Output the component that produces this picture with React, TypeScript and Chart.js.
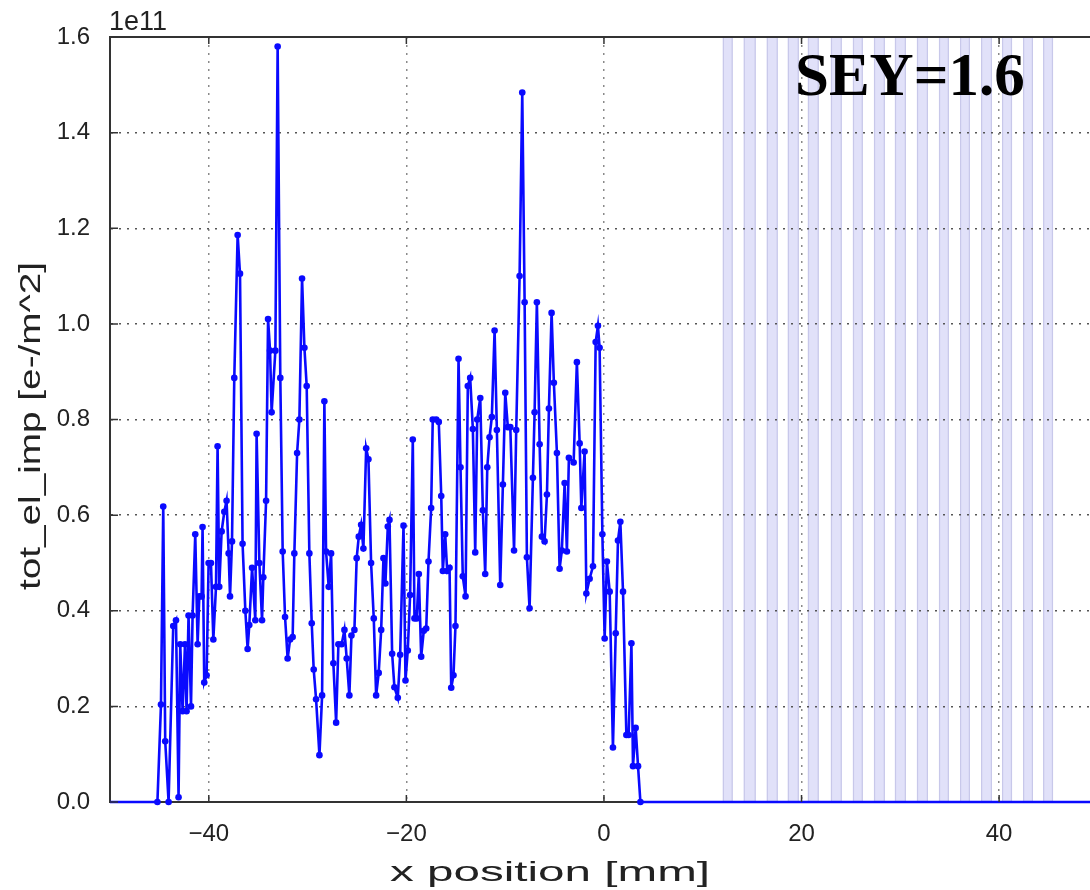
import { useEffect, useRef } from "react";
import { Chart, registerables } from "chart.js";

Chart.register(...registerables);

// x position [mm]
const xPos = [
  -50, -45.2, -44.84, -44.61, -44.41, -44.07, -43.6, -43.32, -43.06, -42.89,
  -42.65, -42.41, -42.25, -42.05, -41.8, -41.64, -41.37, -41.13, -40.96, -40.73,
  -40.63, -40.46, -40.22, -40.02, -39.78, -39.54, -39.27, -39.11, -38.94, -38.7,
  -38.43, -38.2, -37.99, -37.85, -37.65, -37.42, -37.08, -36.84, -36.58, -36.3,
  -36.07, -35.9, -35.62, -35.29, -35.16, -34.88, -34.61, -34.48, -34.2, -34.0,
  -33.8, -33.64, -33.26, -33.03, -32.76, -32.52, -32.28, -32.02, -31.77, -31.51,
  -31.34, -31.06, -30.83, -30.56, -30.32, -30.09, -29.82, -29.58, -29.38, -29.14,
  -28.8, -28.53, -28.3, -28.13, -27.86, -27.62, -27.39, -27.11, -26.88, -26.55,
  -26.27, -26.04, -25.77, -25.56, -25.26, -25.03, -24.82, -24.58, -24.35, -24.07,
  -23.84, -23.57, -23.3, -23.06, -22.8, -22.55, -22.32, -22.12, -21.88, -21.71,
  -21.44, -21.21, -20.87, -20.63, -20.29, -20.09, -19.86, -19.62, -19.35, -19.18,
  -18.95, -18.74, -18.5, -18.24, -17.99, -17.76, -17.49, -17.33, -16.98, -16.72,
  -16.47, -16.31, -16.07, -15.87, -15.63, -15.46, -15.23, -15.03, -14.72, -14.52,
  -14.29, -14.01, -13.78, -13.54, -13.27, -13.03, -12.83, -12.52, -12.26, -12.02,
  -11.81, -11.58, -11.35, -11.07, -10.84, -10.5, -10.23, -9.99, -9.73, -9.48,
  -9.1, -8.88, -8.54, -8.27, -8.03, -7.8, -7.53, -7.19, -7.02, -6.79,
  -6.51, -6.28, -6.01, -5.77, -5.57, -5.3, -5.07, -4.76, -4.49, -4.26,
  -3.98, -3.75, -3.55, -3.07, -2.74, -2.46, -2.29, -1.96, -1.78, -1.45,
  -1.11, -0.84, -0.61, -0.44, -0.16, 0.07, 0.3, 0.58, 0.91, 1.19,
  1.42, 1.66, 1.93, 2.27, 2.5, 2.78, 2.94, 3.21, 3.45, 3.69,
  49.2,
];

// tot_el_imp [e-/m^2], in units of 1e11
const totElImp = [
  0, 0, 0.204, 0.618, 0.127, 0.0, 0.368, 0.38, 0.01, 0.33,
  0.19, 0.33, 0.19, 0.39, 0.2, 0.39, 0.56, 0.33, 0.43, 0.43,
  0.575, 0.25, 0.265, 0.5, 0.5, 0.34, 0.45, 0.744, 0.45, 0.566,
  0.607, 0.63, 0.52, 0.43, 0.545, 0.887, 1.186, 1.105, 0.54, 0.4,
  0.32, 0.37, 0.49, 0.38, 0.77, 0.5, 0.38, 0.47, 0.63, 1.01,
  0.944, 0.815, 0.944, 1.58, 0.887, 0.524, 0.387, 0.3, 0.34, 0.345,
  0.52, 0.73, 0.8, 1.095, 0.95, 0.87, 0.52, 0.374, 0.277, 0.215,
  0.098, 0.223, 0.838, 0.524, 0.45, 0.52, 0.29, 0.166, 0.33, 0.33,
  0.36, 0.3, 0.223, 0.348, 0.36, 0.51, 0.555, 0.58, 0.53, 0.74,
  0.717, 0.5, 0.384, 0.223, 0.27, 0.36, 0.51, 0.457, 0.576, 0.59,
  0.31, 0.24, 0.218, 0.308, 0.578, 0.254, 0.317, 0.433, 0.758, 0.384,
  0.384, 0.477, 0.304, 0.358, 0.363, 0.503, 0.615, 0.8, 0.8, 0.795,
  0.64, 0.483, 0.56, 0.483, 0.49, 0.239, 0.265, 0.368, 0.927, 0.7,
  0.472, 0.43, 0.87, 0.887, 0.78, 0.522, 0.8, 0.845, 0.61, 0.477,
  0.7, 0.763, 0.805, 0.986, 0.778, 0.454, 0.664, 0.856, 0.784, 0.784,
  0.526, 0.778, 1.1, 1.484, 1.045, 0.512, 0.405, 0.678, 0.815, 1.045,
  0.748, 0.555, 0.545, 0.643, 0.823, 1.023, 0.877, 0.73, 0.488, 0.526,
  0.667, 0.524, 0.72, 0.71, 0.92, 0.75, 0.615, 0.733, 0.436, 0.467,
  0.493, 0.962, 0.996, 0.95, 0.56, 0.342, 0.503, 0.44, 0.114, 0.353,
  0.547, 0.586, 0.44, 0.14, 0.14, 0.332, 0.075, 0.155, 0.075, 0.0,
  0,
];

// shaded vertical bands [mm]
const stripeStart = [
  12.03, 14.15, 16.48, 18.61, 20.64, 22.97, 25.2, 27.33,
  29.45, 31.68, 33.91, 36.04, 38.17, 40.29, 42.42, 44.45,
];
const stripeEnd = [
  13.04, 15.37, 17.6, 19.73, 21.75, 24.08, 26.21, 28.44,
  30.57, 32.8, 34.92, 37.05, 39.28, 41.31, 43.43, 45.46,
];

const xRange = [-50, 49.2];
const yRange = [0, 1.6];
const xTickStep = 20;
const yTickStep = 0.2;
const offsetText = "1e11";
const annotation = "SEY=1.6";
const xTitle = "x position [mm]";
const yTitle = "tot_el_imp [e-/m^2]";

const SANS = "'Liberation Sans', Arial, sans-serif";
const SERIF = "'Liberation Serif', 'Times New Roman', serif";

function stretchedText(
  ctx: CanvasRenderingContext2D,
  text: string,
  cx: number,
  cy: number,
  targetWidth: number,
  rotation: number
) {
  const w = ctx.measureText(text).width;
  ctx.save();
  ctx.translate(cx, cy);
  ctx.rotate(rotation);
  ctx.scale(targetWidth / w, 1);
  ctx.textAlign = "center";
  ctx.textBaseline = "middle";
  ctx.fillText(text, 0, 0);
  ctx.restore();
}

const decorPlugin = {
  id: "decor",
  beforeDraw(chart: any) {
    const { ctx, chartArea: ca, scales } = chart;
    const x = scales.x;
    ctx.save();
    ctx.beginPath();
    ctx.rect(ca.left, ca.top, ca.right - ca.left, ca.bottom - ca.top);
    ctx.clip();
    for (let i = 0; i < stripeStart.length; i++) {
      const a = x.getPixelForValue(stripeStart[i]);
      const b = x.getPixelForValue(stripeEnd[i]);
      ctx.fillStyle = "#e1e1f9";
      ctx.fillRect(a, ca.top, b - a, ca.bottom - ca.top);
      ctx.strokeStyle = "#c8c8ea";
      ctx.lineWidth = 1.2;
      ctx.beginPath();
      ctx.moveTo(a + 0.6, ca.top);
      ctx.lineTo(a + 0.6, ca.bottom);
      ctx.moveTo(b - 0.6, ca.top);
      ctx.lineTo(b - 0.6, ca.bottom);
      ctx.stroke();
    }
    ctx.restore();
  },
  afterDraw(chart: any) {
    const { ctx, chartArea: ca, scales } = chart;
    const x = scales.x;
    const y = scales.y;
    ctx.save();
    // top frame
    ctx.strokeStyle = "#333";
    ctx.lineWidth = 2;
    ctx.beginPath();
    ctx.moveTo(ca.left, ca.top);
    ctx.lineTo(ca.right, ca.top);
    ctx.stroke();
    // inward tick marks
    ctx.lineWidth = 1.5;
    ctx.strokeStyle = "#333";
    ctx.beginPath();
    y.ticks.forEach((_t: any, i: number) => {
      const py = y.getPixelForTick(i);
      ctx.moveTo(ca.left, py);
      ctx.lineTo(ca.left + 8, py);
    });
    x.ticks.forEach((_t: any, i: number) => {
      const px = x.getPixelForTick(i);
      ctx.moveTo(px, ca.bottom);
      ctx.lineTo(px, ca.bottom - 7);
      ctx.moveTo(px, ca.top);
      ctx.lineTo(px, ca.top + 7);
    });
    ctx.stroke();
    // offset text
    ctx.fillStyle = "#222";
    ctx.font = `27px ${SANS}`;
    ctx.textAlign = "left";
    ctx.textBaseline = "alphabetic";
    ctx.fillText(offsetText, ca.left - 1, ca.top - 7);
    // axis titles
    ctx.font = `28px ${SANS}`;
    stretchedText(ctx, xTitle, 550, 873, 320, 0);
    ctx.font = `29px ${SANS}`;
    stretchedText(ctx, yTitle, 32, 426, 328, -Math.PI / 2);
    // annotation
    ctx.fillStyle = "#000";
    ctx.font = `bold 61px ${SERIF}`;
    ctx.textAlign = "left";
    ctx.textBaseline = "alphabetic";
    ctx.fillText(annotation, 795, 95);
    ctx.restore();
  },
};

export default function App() {
  const ref = useRef<HTMLCanvasElement | null>(null);

  useEffect(() => {
    document.body.style.margin = "0";
    const canvas = ref.current;
    if (!canvas) return;
    const points = xPos.map((xv, i) => ({ x: xv, y: totElImp[i] }));
    const chart = new Chart(canvas, {
      type: "line",
      data: {
        datasets: [
          {
            data: points,
            borderColor: "#0a0aff",
            backgroundColor: "#0a0aff",
            borderWidth: 2.6,
            pointRadius: (c: any) =>
              c.raw && (c.raw.x <= xRange[0] || c.raw.x >= xRange[1]) ? 0 : 3.3,
            pointBorderWidth: 0,
            pointHoverRadius: 0,
            tension: 0,
            clip: false,
          } as any,
        ],
      },
      options: {
        animation: false,
        responsive: false,
        maintainAspectRatio: false,
        events: [],
        layout: { padding: { top: 37, right: 0, bottom: 0, left: 0 } },
        plugins: {
          legend: { display: false },
          tooltip: { enabled: false },
          title: { display: false },
        },
        scales: {
          x: {
            type: "linear",
            min: xRange[0],
            max: xRange[1],
            ticks: {
              stepSize: xTickStep,
              includeBounds: false,
              color: "#222",
              font: { family: SANS, size: 24 },
              padding: 18,
              maxRotation: 0,
              callback: (v: any) => (v < 0 ? "\u2212" + Math.abs(v) : String(v)),
            },
            grid: { color: "#8a8a8a", lineWidth: 1.5, drawTicks: false },
            border: { display: true, color: "#333", width: 2, dash: [2, 6] },
            afterFit: (s: any) => {
              s.height = 88;
            },
          },
          y: {
            type: "linear",
            min: yRange[0],
            max: yRange[1],
            ticks: {
              stepSize: yTickStep,
              color: "#222",
              font: { family: SANS, size: 24 },
              padding: 20,
              callback: (v: any) => Number(v).toFixed(1),
            },
            grid: { color: "#555", lineWidth: 1.5, drawTicks: false },
            border: { display: true, color: "#333", width: 2, dash: [2, 6] },
            afterFit: (s: any) => {
              s.width = 110;
            },
          },
        },
      },
      plugins: [decorPlugin],
    });
    return () => chart.destroy();
  }, []);

  return (
    <div style={{ width: 1090, height: 890, background: "#fff" }}>
      <canvas ref={ref} width={1090} height={890} style={{ display: "block" }} />
    </div>
  );
}
